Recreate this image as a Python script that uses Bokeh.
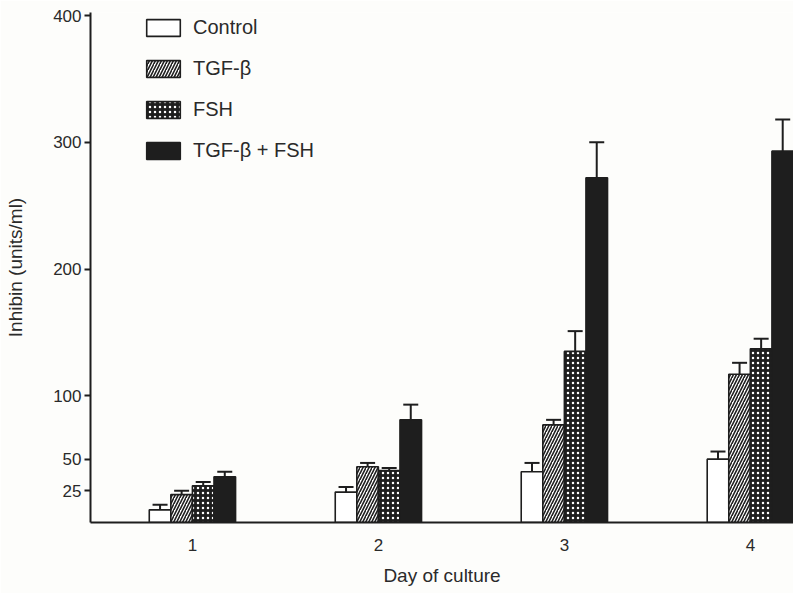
from bokeh.plotting import figure
from bokeh.models import ColumnDataSource, FixedTicker, Whisker, TeeHead, Legend, LegendItem, Range1d
from bokeh.embed import file_html
from bokeh.resources import INLINE

# ---- data ----
days = [1, 2, 3, 4]
day_labels = ["1", "2", "3", "4"]
series = ["Control", "TGF-β", "FSH", "TGF-β + FSH"]
control = [10, 24, 40, 50]
control_err = [4, 4, 7, 6]
tgf = [22, 44, 77, 117]
tgf_err = [3, 3, 4, 9]
fsh = [29, 41, 135, 137]
fsh_err = [3, 2, 16, 8]
tgf_fsh = [36, 81, 272, 293]
tgf_fsh_err = [4, 12, 28, 25]
y_ticks = [25, 50, 100, 200, 300, 400]

FONT = "Liberation Sans"
INK = "#1e1e1e"
TXT = "#2a2a2a"
BG = "#fdfdfb"

p = figure(frame_width=703, frame_height=510, output_backend="svg", toolbar_location=None,
           x_range=Range1d(0.452, 4.232), y_range=Range1d(0, 402.4),
           min_border_left=90, min_border_right=0, min_border_top=12, min_border_bottom=71,
           background_fill_color=BG, border_fill_color=BG)
p.outline_line_color = None
p.xgrid.visible = False
p.ygrid.visible = False

bw = 0.116
offsets = [-1.5 * bw, -0.5 * bw, 0.5 * bw, 1.5 * bw]
styles = [
    dict(fill_color="white", line_color=INK),
    dict(fill_color="white", line_color=INK, hatch_pattern="right_diagonal_line",
         hatch_color=INK, hatch_scale=6, hatch_weight=1.6),
    dict(fill_color=INK, line_color=INK, hatch_pattern="dot",
         hatch_color="white", hatch_scale=5, hatch_weight=1.3),
    dict(fill_color=INK, line_color=INK),
]
vals = [control, tgf, fsh, tgf_fsh]
errs = [control_err, tgf_err, fsh_err, tgf_fsh_err]

items = []
for name, v, e, off, st in zip(series, vals, errs, offsets, styles):
    src = ColumnDataSource(dict(
        x=[d + off for d in days],
        top=v,
        upper=[a + b for a, b in zip(v, e)],
    ))
    r = p.vbar(x="x", top="top", width=bw, bottom=0, source=src, line_width=1.6, **st)
    w = Whisker(base="x", lower="top", upper="upper", source=src, dimension="height",
                line_color=INK, line_width=2, lower_head=None,
                upper_head=TeeHead(size=15, line_color=INK, line_width=2), level="annotation")
    p.add_layout(w)
    items.append(LegendItem(label=name, renderers=[r]))

legend = Legend(items=items, location=(52, 360), orientation="vertical",
                glyph_width=42, glyph_height=21, spacing=18, label_standoff=9,
                padding=0, margin=0, border_line_color=None, background_fill_alpha=0,
                label_text_font=FONT, label_text_font_size="20px", label_text_color=TXT)
p.add_layout(legend, "center")

# y axis
p.yaxis.ticker = FixedTicker(ticks=y_ticks)
p.yaxis.minor_tick_line_color = None
p.yaxis.major_tick_out = 6
p.yaxis.major_tick_in = 0
p.yaxis.major_tick_line_width = 2
p.yaxis.major_tick_line_color = INK
p.yaxis.axis_line_width = 2
p.yaxis.axis_line_color = INK
p.yaxis.major_label_standoff = 3
p.yaxis.major_label_text_font = FONT
p.yaxis.major_label_text_font_size = "17px"
p.yaxis.major_label_text_color = TXT
p.yaxis.axis_label = "Inhibin (units/ml)"
p.yaxis.axis_label_text_font = FONT
p.yaxis.axis_label_text_font_style = "normal"
p.yaxis.axis_label_text_font_size = "19px"
p.yaxis.axis_label_text_color = TXT
p.yaxis.axis_label_standoff = 24

# x axis
p.xaxis.ticker = FixedTicker(ticks=days)
p.xaxis.major_label_overrides = {d: s for d, s in zip(days, day_labels)}
p.xaxis.minor_tick_line_color = None
p.xaxis.major_tick_out = 0
p.xaxis.major_tick_in = 0
p.xaxis.axis_line_width = 2
p.xaxis.axis_line_color = INK
p.xaxis.major_label_standoff = 16
p.xaxis.major_label_text_font = FONT
p.xaxis.major_label_text_font_size = "17px"
p.xaxis.major_label_text_color = TXT
p.xaxis.axis_label = "Day of culture"
p.xaxis.axis_label_text_font = FONT
p.xaxis.axis_label_text_font_style = "normal"
p.xaxis.axis_label_text_font_size = "19px"
p.xaxis.axis_label_text_color = TXT
p.xaxis.axis_label_standoff = 11

open("out.html", "w").write(file_html(p, INLINE))
